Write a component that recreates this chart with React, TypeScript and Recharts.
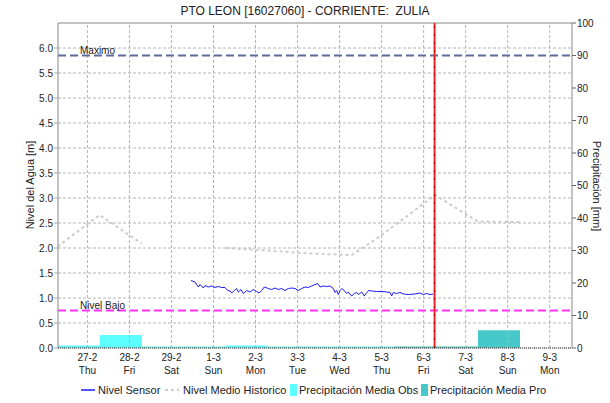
import React from 'react';
import { ComposedChart, Line, Bar, Cell, XAxis, YAxis, ReferenceLine } from 'recharts';

// X axis: days, 0 = 27-2 (00:00)
const dayTicks = [0, 1, 2, 3, 4, 5, 6, 7, 8, 9, 10, 11];
const dayLabels = ['27-2', '28-2', '29-2', '1-3', '2-3', '3-3', '4-3', '5-3', '6-3', '7-3', '8-3', '9-3'];
const weekdayLabels = ['Thu', 'Fri', 'Sat', 'Sun', 'Mon', 'Tue', 'Wed', 'Thu', 'Fri', 'Sat', 'Sun', 'Mon'];
const levelTicks = [0, 0.5, 1, 1.5, 2, 2.5, 3, 3.5, 4, 4.5, 5, 5.5, 6];
const precipTicks = [0, 10, 20, 30, 40, 50, 60, 70, 80, 90, 100];

// Precipitation (mm) per 07:00-07:00 window ending on each day
const precipObs = [0.8, 4.0, 0.5, 0.5, 0.8, 0.5, 0.5, 0.5, null, null, null, null];
const precipPro = [null, null, null, null, null, null, null, null, 0.5, 0.5, 5.5, 0];

// Nivel Medio Historico (m)
const histDays = [-0.71, 0.29, 1.29, 2.29, 3.29, 4.29, 5.29, 6.29, 6.9, 7.5, 8.27, 9.29, 10.29];
const histLevel = [2.03, 2.66, 2.09, null, 2.0, 1.95, 1.89, 1.86, 2.2, 2.57, 3.06, 2.53, 2.52];

// Nivel Sensor (m)
const sensorDays = [2.465, 2.56, 2.639, 2.679, 2.758, 2.798, 2.877, 2.957, 3.036, 3.115, 3.195, 3.274, 3.337, 3.393, 3.433, 3.496, 3.552, 3.591, 3.655, 3.71, 3.79, 3.869, 3.948, 4.027, 4.083, 4.146, 4.21, 4.305, 4.384, 4.464, 4.543, 4.622, 4.701, 4.781, 4.86, 4.939, 5.019, 5.098, 5.177, 5.256, 5.336, 5.415, 5.479, 5.534, 5.613, 5.693, 5.772, 5.851, 5.891, 5.931, 5.97, 6.01, 6.05, 6.113, 6.169, 6.208, 6.288, 6.351, 6.407, 6.446, 6.526, 6.589, 6.645, 6.7, 6.764, 6.882, 7.001, 7.12, 7.2, 7.239, 7.279, 7.358, 7.438, 7.517, 7.636, 7.795, 7.914, 7.993, 8.072, 8.152, 8.231];
const sensorLevel = [1.35, 1.32, 1.22, 1.27, 1.2, 1.25, 1.22, 1.24, 1.21, 1.23, 1.21, 1.21, 1.15, 1.14, 1.1, 1.15, 1.19, 1.12, 1.17, 1.09, 1.15, 1.12, 1.17, 1.13, 1.1, 1.15, 1.22, 1.19, 1.17, 1.2, 1.17, 1.19, 1.15, 1.19, 1.2, 1.19, 1.15, 1.19, 1.22, 1.21, 1.24, 1.27, 1.29, 1.22, 1.24, 1.23, 1.24, 1.19, 1.11, 1.15, 1.07, 1.15, 1.19, 1.15, 1.09, 1.12, 1.04, 1.09, 1.11, 1.07, 1.12, 1.04, 1.11, 1.15, 1.14, 1.13, 1.13, 1.12, 1.11, 1.04, 1.11, 1.09, 1.11, 1.08, 1.07, 1.08, 1.1, 1.07, 1.09, 1.07, 1.08];

const maximoLevel = 5.85;
const nivelBajoLevel = 0.75;
const nowDay = 8.26;

const OBS_COLOR = '#5cffff';
const PRO_COLOR = '#48c9c9';
const GRID = '#b4b4b4';

const barData = dayLabels.map((lab, i) => ({
  cat: lab,
  precip: precipObs[i] != null ? precipObs[i] : precipPro[i],
  obs: precipObs[i] != null,
}));
const histData = histDays.map((d, i) => ({ day: d, hist: histLevel[i] }));
const sensorData = sensorDays.map((d, i) => ({ day: d, sensor: sensorLevel[i] }));

const FONT = '"Liberation Sans", Arial, sans-serif';

const DayTick = (props: any) => {
  const { x, y, payload } = props;
  const i = dayTicks.indexOf(payload.value);
  return (
    <g>
      <text x={x} y={y + 13} textAnchor="middle" fontSize={10} fill="#222" fontFamily={FONT}>{dayLabels[i]}</text>
      <text x={x} y={y + 26} textAnchor="middle" fontSize={10} fill="#222" fontFamily={FONT}>{weekdayLabels[i]}</text>
    </g>
  );
};

const refLabel = (text: string) => (props: any) => {
  const vb = props.viewBox || {};
  return (
    <text x={(vb.x || 0) + 22} y={(vb.y || 0) - 2} fontSize={10} fill="#222" fontFamily={FONT}>{text}</text>
  );
};

const legendItems = [
  { label: 'Nivel Sensor', kind: 'line', color: '#1a1aff', icon: 81, text: 98 },
  { label: 'Nivel Medio Historico', kind: 'dash', color: '#cccccc', icon: 165, text: 183 },
  { label: 'Precipitación Media Obs', kind: 'box', color: OBS_COLOR, icon: 290, text: 299 },
  { label: 'Precipitación Media Pro', kind: 'box', color: PRO_COLOR, icon: 421, text: 430 },
];

export default function App() {
  const hGrid = levelTicks.map((v) => (
    <ReferenceLine key={'h' + v} xAxisId="time" yAxisId="left" y={v} stroke={GRID} strokeWidth={1} strokeDasharray="3 2" ifOverflow="visible" />
  ));
  const vGrid = dayTicks.map((d) => (
    <ReferenceLine key={'v' + d} xAxisId="time" yAxisId="left" x={d} stroke={GRID} strokeWidth={1} strokeDasharray="3 2" ifOverflow="visible" />
  ));
  return (
    <div style={{ position: 'absolute', left: 0, top: 0, width: 610, height: 403, background: '#fff', fontFamily: FONT }}>
      <div style={{ position: 'absolute', left: 0, top: 4, width: 610, textAlign: 'center', fontSize: 12, color: '#222', whiteSpace: 'pre' }}>
        {'PTO LEON [16027060] - CORRIENTE:  ZULIA'}
      </div>
      <ComposedChart
        width={610}
        height={403}
        data={barData}
        barCategoryGap={0}
        margin={{ top: 23, right: 0, left: 0, bottom: 0 }}
        style={{ fontFamily: FONT }}
      >
        <XAxis
          xAxisId="time"
          dataKey="day"
          type="number"
          domain={[-0.7, 11.53]}
          ticks={dayTicks}
          interval={0}
          allowDataOverflow
          height={55}
          tickLine={false}
          tickSize={0}
          tickMargin={0}
          axisLine={{ stroke: '#333', strokeDasharray: '1 1' }}
          tick={<DayTick />}
        />
        <XAxis
          xAxisId="bars"
          dataKey="cat"
          type="category"
          hide
          height={0}
          padding={{ left: 0, right: 10 }}
        />
        <YAxis
          yAxisId="left"
          domain={[0, 6.5]}
          ticks={levelTicks}
          interval={0}
          allowDataOverflow
          width={58}
          tickSize={4}
          tickMargin={1}
          tickFormatter={(v: number) => v.toFixed(1)}
          tick={{ fontSize: 10, fill: '#222', fontFamily: FONT }}
          tickLine={{ stroke: '#aaa' }}
          axisLine={{ stroke: '#888' }}
        />
        <YAxis
          yAxisId="right"
          orientation="right"
          domain={[0, 100]}
          ticks={precipTicks}
          interval={0}
          allowDataOverflow
          width={38}
          tickSize={4}
          tickMargin={1}
          tick={{ fontSize: 10, fill: '#222', fontFamily: FONT }}
          tickLine={{ stroke: '#666' }}
          axisLine={{ stroke: '#888' }}
        />
        {hGrid}
        {vGrid}
        <ReferenceLine xAxisId="time" yAxisId="left" y={6.5} stroke="#888" strokeWidth={1} />
        <Bar xAxisId="bars" yAxisId="right" dataKey="precip" isAnimationActive={false}>
          {barData.map((d, i) => (
            <Cell key={i} fill={d.obs ? OBS_COLOR : PRO_COLOR} />
          ))}
        </Bar>
        <Line
          xAxisId="time"
          yAxisId="left"
          data={histData}
          dataKey="hist"
          type="linear"
          stroke="#cccccc"
          strokeWidth={2}
          strokeDasharray="3 3"
          dot={false}
          activeDot={false}
          connectNulls={false}
          isAnimationActive={false}
        />
        <Line
          xAxisId="time"
          yAxisId="left"
          data={sensorData}
          dataKey="sensor"
          type="linear"
          stroke="#1a1aff"
          strokeWidth={1}
          dot={false}
          activeDot={false}
          isAnimationActive={false}
        />
        <ReferenceLine
          xAxisId="time"
          yAxisId="left"
          y={maximoLevel}
          stroke="#5c6c9c"
          strokeWidth={2}
          strokeDasharray="8 4"
          label={{ content: refLabel('Maximo') }}
        />
        <ReferenceLine
          xAxisId="time"
          yAxisId="left"
          y={nivelBajoLevel}
          stroke="#ff33ff"
          strokeWidth={2}
          strokeDasharray="8 4"
          label={{ content: refLabel('Nivel Bajo') }}
        />
        <ReferenceLine xAxisId="time" yAxisId="left" x={nowDay} stroke="#ff2020" strokeWidth={2} />
        <ReferenceLine xAxisId="time" yAxisId="left" x={nowDay} stroke="#a00000" strokeWidth={1} strokeDasharray="2 6" />
      </ComposedChart>
      <div style={{ position: 'absolute', left: 30, top: 185, transform: 'translate(-50%, -50%) rotate(-90deg)', fontSize: 11, color: '#222', whiteSpace: 'nowrap' }}>
        Nivel del Agua [m]
      </div>
      <div style={{ position: 'absolute', left: 597, top: 186, transform: 'translate(-50%, -50%) rotate(90deg)', fontSize: 11, color: '#222', whiteSpace: 'nowrap' }}>
        Precipitación [mm]
      </div>
      {legendItems.map((it) => (
        <React.Fragment key={it.label}>
          <svg width={16} height={12} style={{ position: 'absolute', left: it.icon, top: 384 }}>
            {it.kind === 'line' && <line x1={0} y1={6} x2={14} y2={6} stroke={it.color} strokeWidth={1.5} />}
            {it.kind === 'dash' && <line x1={0} y1={6} x2={14} y2={6} stroke={it.color} strokeWidth={2} strokeDasharray="3 3" />}
            {it.kind === 'box' && <rect x={0} y={0} width={7} height={12} fill={it.color} />}
          </svg>
          <div style={{ position: 'absolute', left: it.text, top: 383, fontSize: 11, color: '#222', whiteSpace: 'nowrap', lineHeight: '14px' }}>
            {it.label}
          </div>
        </React.Fragment>
      ))}
    </div>
  );
}
